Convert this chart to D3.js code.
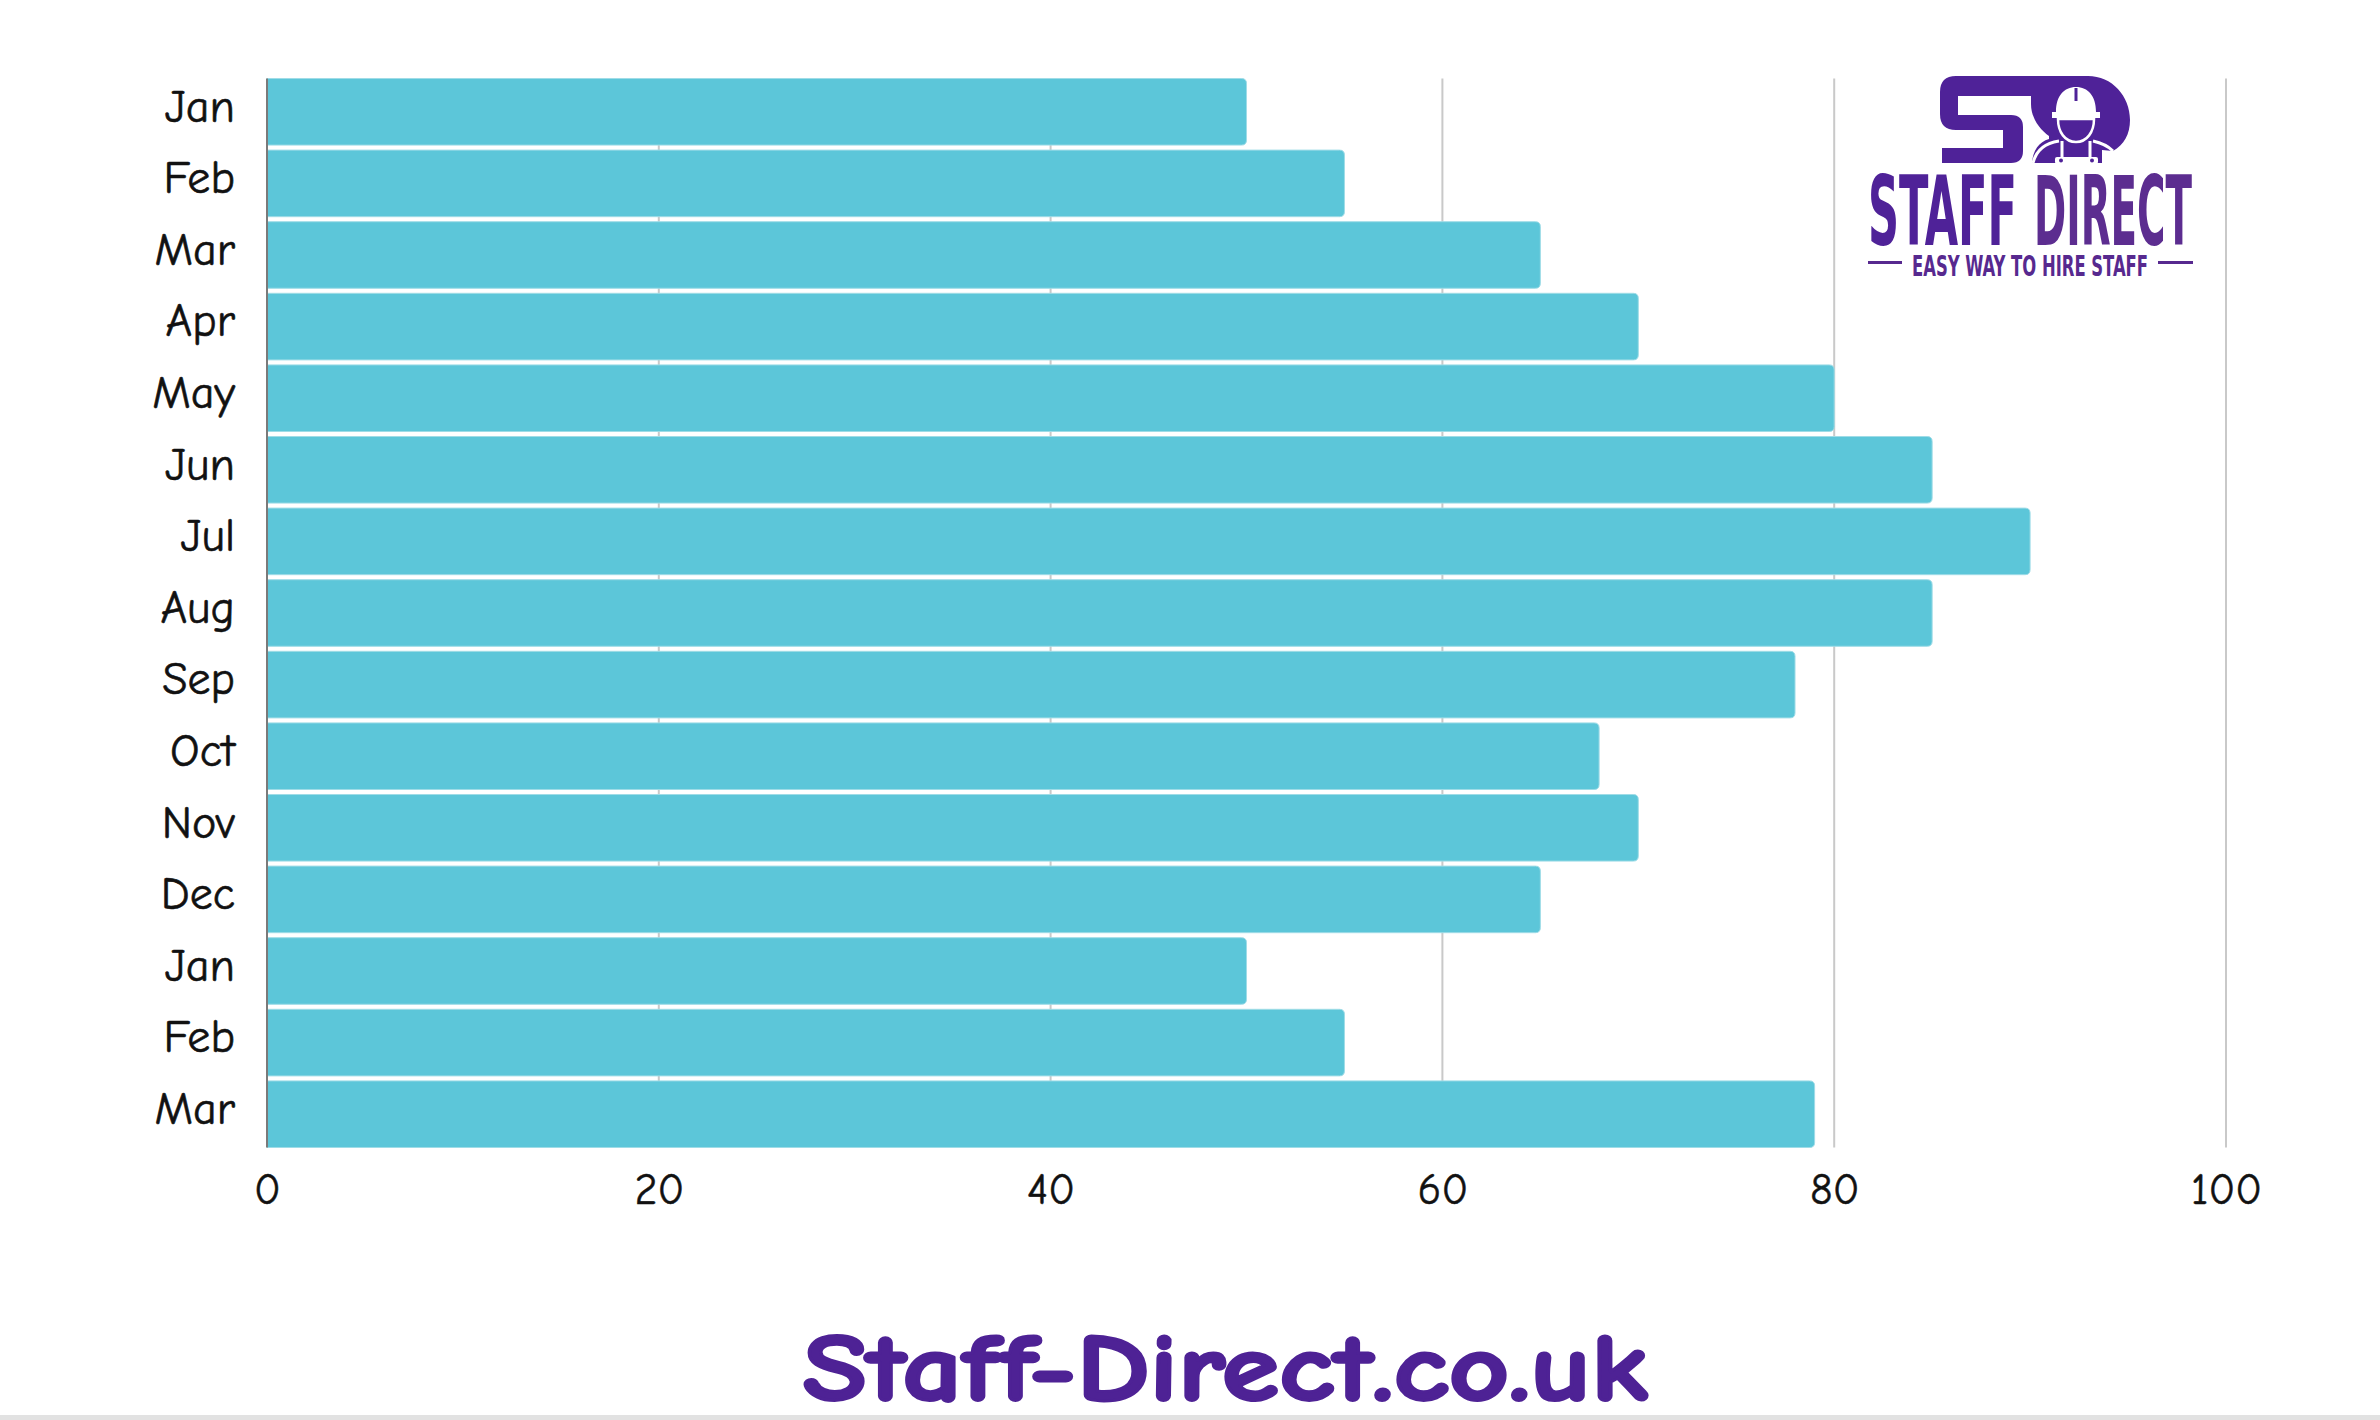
<!DOCTYPE html>
<html>
<head>
<meta charset="utf-8">
<script src="https://cdn.jsdelivr.net/npm/d3@7"></script>
<style>
  html, body { margin: 0; padding: 0; background: #fff; }
  svg { display: block; }
</style>
</head>
<body>
<svg id="chart" width="2380" height="1420"></svg>
<script>
// ---- data ----
const categories = ["Jan","Feb","Mar","Apr","May","Jun","Jul","Aug","Sep","Oct","Nov","Dec","Jan","Feb","Mar"];
const values = [50, 55, 65, 70, 80, 85, 90, 85, 78, 68, 70, 65, 50, 55, 79];
const xTicks = [0, 20, 40, 60, 80, 100];
const footerText = "Staff-Direct.co.uk";
const logoTitleA = "STAFF";
const logoTitleB = "DIRECT";
const logoTagline = "EASY WAY TO HIRE STAFF";

(function () {
// ---- layout ----
const W = 2380, H = 1420;
const mLeft = 267, mRight = 2226, mTop = 76, mBottom = 1150;
const comic = '"Comic Sans MS", "Comic Neue", "DejaVu Sans", sans-serif';
const narrow = '"Liberation Sans Narrow", "DejaVu Sans Condensed", "Roboto Condensed", sans-serif';
const purple = "#4F2298";

const svg = d3.select("#chart");
svg.append("rect").attr("width", W).attr("height", H).attr("fill", "#fff");

const x = d3.scaleLinear().domain([0, 100]).range([mLeft, mRight]);
const y = d3.scaleBand().domain(d3.range(categories.length)).range([mTop, mBottom])
  .paddingInner(0.07).paddingOuter(0.035);

const plotTop = y(0), plotBottom = y(categories.length - 1) + y.bandwidth();

// gridlines
svg.append("g").selectAll("line").data(xTicks.filter(t => t > 0)).join("line")
  .attr("x1", d => x(d)).attr("x2", d => x(d))
  .attr("y1", plotTop).attr("y2", plotBottom)
  .attr("stroke", "#c9c9c9").attr("stroke-width", 2);

// bars with rounded right corners
const r = 5;
svg.append("g").selectAll("path").data(values).join("path")
  .attr("d", (d, i) => {
    const x0 = x(0), x1 = x(d), y0 = y(i), h = y.bandwidth();
    return `M${x0},${y0}H${x1 - r}Q${x1},${y0} ${x1},${y0 + r}V${y0 + h - r}Q${x1},${y0 + h} ${x1 - r},${y0 + h}H${x0}Z`;
  })
  .attr("fill", "#5CC6D9")
  .attr("stroke", "#9fdce7").attr("stroke-width", 1);

// y axis line
svg.append("line").attr("x1", mLeft).attr("x2", mLeft)
  .attr("y1", plotTop).attr("y2", plotBottom)
  .attr("stroke", "#7a7a7a").attr("stroke-width", 2);

// y axis labels
const yAxis = d3.axisLeft(y).tickSize(0).tickPadding(32).tickFormat(i => categories[i]);
const gy = svg.append("g").attr("transform", `translate(${mLeft},-5)`).call(yAxis);
gy.select(".domain").remove();
gy.selectAll("text").attr("font-family", comic).attr("font-size", 46).attr("fill", "#111")
  .attr("stroke", "#111").attr("stroke-width", 0.6);

// x axis labels
const xAxis = d3.axisBottom(x).tickValues(xTicks).tickSize(0).tickPadding(0);
const gx = svg.append("g").attr("transform", `translate(0,${plotBottom + 25})`).call(xAxis);
gx.select(".domain").remove();
gx.selectAll("text").attr("font-family", comic).attr("font-size", 44).attr("fill", "#111")
  .attr("stroke", "#111").attr("stroke-width", 0.5);

// ---- logo ----
const logo = svg.append("g");
logo.append("path").attr("fill", purple)
  .attr("d", "M1956,76H2040V96H1958V115H2011Q2023,115 2023,127V151Q2023,163 2011,163H1942V148H2003V130H1956Q1940,130 1940,114V92Q1940,76 1956,76Z");
logo.append("path").attr("fill", purple)
  .attr("d", "M2030,76H2088C2112,76 2130,96 2130,120C2130,134 2124,145 2113,151L2102,150V163H2032C2033,150 2039,142 2049,139V136C2040,130 2031,118 2031,104V96H2030Z");
logo.append("path").attr("fill", "#fff")
  .attr("d", "M2056,112C2056,96 2064,87 2076,87C2088,87 2096,96 2096,112H2100V118H2052V112Z");
logo.append("line").attr("x1", 2076).attr("x2", 2076).attr("y1", 88).attr("y2", 101)
  .attr("stroke", purple).attr("stroke-width", 3);
logo.append("path").attr("fill", purple).attr("stroke", "#fff").attr("stroke-width", 2.5)
  .attr("d", "M2058,119H2094C2094,132 2087,142 2076,142C2065,142 2058,132 2058,119Z");
logo.append("path").attr("fill", "none").attr("stroke", "#fff").attr("stroke-width", 3)
  .attr("d", "M2033,163C2036,151 2045,143 2059,141M2093,141C2102,143 2108,146 2113,151");
logo.append("path").attr("fill", "none").attr("stroke", "#fff").attr("stroke-width", 3)
  .attr("d", "M2062,141V158M2090,141V158");
logo.append("rect").attr("x", 2055).attr("y", 157).attr("width", 43).attr("height", 7).attr("rx", 2).attr("fill", "#fff");
logo.append("circle").attr("cx", 2061).attr("cy", 160.5).attr("r", 2).attr("fill", purple);
logo.append("circle").attr("cx", 2092).attr("cy", 160.5).attr("r", 2).attr("fill", purple);

logo.append("text").attr("x", 1868).attr("y", 245)
  .attr("font-family", narrow).attr("font-weight", "bold").attr("font-size", 96)
  .attr("textLength", 149).attr("lengthAdjust", "spacingAndGlyphs")
  .attr("fill", purple).text(logoTitleA);
logo.append("text").attr("x", 2034).attr("y", 245)
  .attr("font-family", narrow).attr("font-weight", "bold").attr("font-size", 96)
  .attr("textLength", 158).attr("lengthAdjust", "spacingAndGlyphs")
  .attr("fill", "#5C2D90").text(logoTitleB);
logo.append("text").attr("x", 1912).attr("y", 276)
  .attr("font-family", narrow).attr("font-weight", "bold").attr("font-size", 28)
  .attr("textLength", 236).attr("lengthAdjust", "spacingAndGlyphs")
  .attr("fill", "#57298F").text(logoTagline);
logo.append("rect").attr("x", 1868).attr("y", 261).attr("width", 34).attr("height", 3).attr("fill", "#57298F");
logo.append("rect").attr("x", 2158).attr("y", 261).attr("width", 35).attr("height", 3).attr("fill", "#57298F");

// ---- footer ----
svg.append("text").attr("x", 803).attr("y", 1400)
  .attr("font-family", comic).attr("font-weight", "bold").attr("font-size", 96)
  .attr("textLength", 845).attr("lengthAdjust", "spacingAndGlyphs")
  .attr("fill", "#4E2295").attr("stroke", "#4E2295").attr("stroke-width", 3)
  .attr("stroke-linejoin", "round").text(footerText);

svg.append("rect").attr("x", 0).attr("y", 1415).attr("width", W).attr("height", 5).attr("fill", "#e2e2e2");
})();
</script>
</body>
</html>
